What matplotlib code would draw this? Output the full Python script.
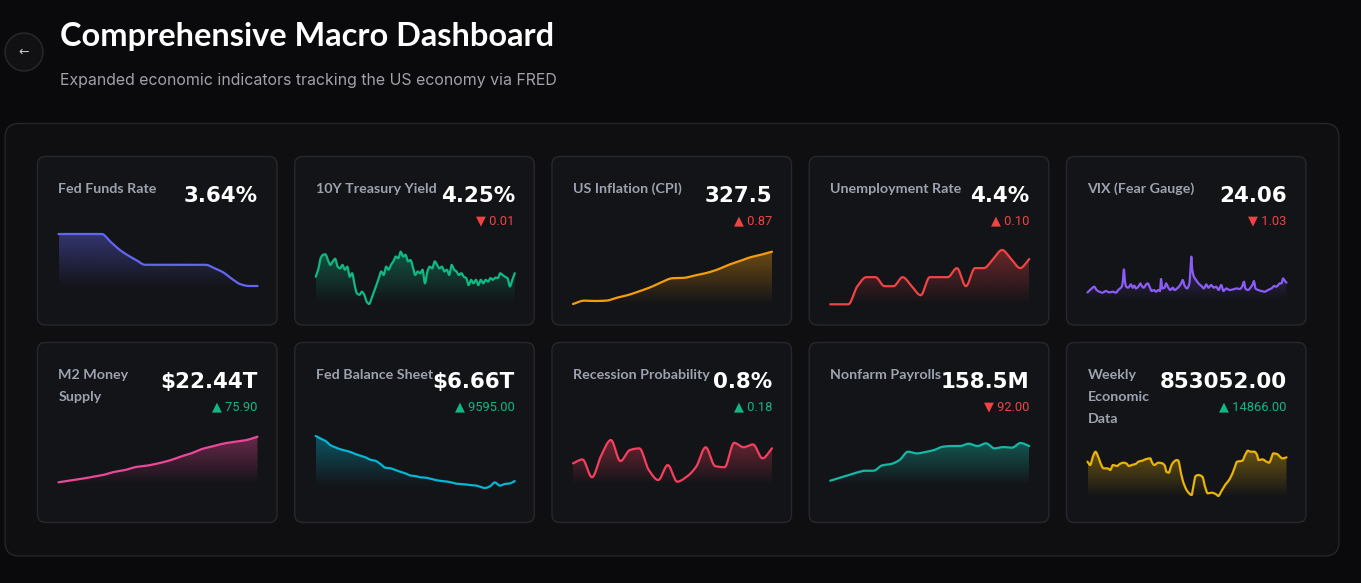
import numpy as np
import matplotlib
matplotlib.use("Agg")
import matplotlib.pyplot as plt
from matplotlib.patches import FancyBboxPatch, Circle, Polygon
from matplotlib.colors import to_rgb

# ---- data ----
labels = ["Fed Funds Rate", "10Y Treasury Yield", "US Inflation (CPI)", "Unemployment Rate", "VIX (Fear Gauge)",
          "M2 Money\nSupply", "Fed Balance Sheet", "Recession Probability", "Nonfarm Payrolls", "Weekly\nEconomic\nData"]
values = ["3.64%", "4.25%", "327.5", "4.4%", "24.06",
          "$22.44T", "$6.66T", "0.8%", "158.5M", "853052.00"]
changes = [None, "▼ 0.01", "▲ 0.87", "▲ 0.10", "▼ 1.03",
           "▲ 75.90", "▲ 9595.00", "▲ 0.18", "▼ 92.00", "▲ 14866.00"]
change_up_good = [None, False, False, False, False, True, True, True, False, True]

fed_funds = [5.33, 5.33, 5.33, 5.33, 5.33, 5.33, 5.08, 4.83, 4.64, 4.48, 4.33, 4.33,
             4.33, 4.33, 4.33, 4.33, 4.33, 4.33, 4.22, 4.09, 3.88, 3.70, 3.64, 3.64]

treasury_10y = [4.17, 4.33, 4.59, 4.67, 4.68, 4.55, 4.44, 4.52, 4.58, 4.40, 4.36, 4.44, 4.33, 4.40,
                4.17, 4.25, 3.98, 3.79, 3.76, 3.83, 3.76, 3.60, 3.55, 3.68, 3.83, 3.98, 4.14, 4.29,
                4.21, 4.40, 4.33, 4.44, 4.52, 4.63, 4.59, 4.74, 4.63, 4.67, 4.52, 4.55, 4.40, 4.21,
                4.29, 4.25, 4.33, 4.02, 4.29, 4.40, 4.36, 4.52, 4.44, 4.36, 4.40, 4.29, 4.33, 4.21,
                4.44, 4.33, 4.29, 4.21, 4.25, 4.17, 4.14, 3.98, 4.10, 4.02, 4.10, 3.98, 4.10, 4.02,
                4.10, 4.06, 4.14, 4.10, 4.15, 4.14, 4.25, 4.21, 4.17, 4.14, 3.95, 4.10, 4.25]

cpi = [296.3, 298.3, 298.1, 298.3, 300.1, 301.7, 303.9, 306.3, 309.3, 311.7,
       311.9, 313.3, 314.7, 316.7, 319.5, 321.7, 324.1, 325.7, 327.5]

unemployment = [3.9, 3.9, 3.9, 4.1, 4.2, 4.2, 4.1, 4.1, 4.2, 4.1, 4.0, 4.2,
                4.2, 4.2, 4.3, 4.1, 4.3, 4.3, 4.4, 4.5, 4.4, 4.3, 4.4]

vix_day = [0, 10, 19, 25, 34, 44, 56, 69, 81, 94,
           106, 115, 122, 128, 132, 136, 140, 145, 152, 162,
           169, 175, 181, 190, 198, 202, 210, 219, 225, 232,
           240, 248, 256, 265, 271, 275, 279, 288, 294, 300,
           310, 319, 325, 338, 350, 356, 362, 372, 381, 385,
           388, 391, 398, 406, 415, 425, 435, 444, 452, 462,
           472, 481, 490, 500, 508, 519, 531, 544, 556, 569,
           578, 585, 590, 600, 612, 619, 622, 628, 638, 650,
           662, 675, 688, 698, 706, 719, 725, 731, 738, 744]
vix = [14.3, 16.7, 19.0, 20.0, 16.7, 15.0, 14.0, 15.7, 14.3, 15.0,
       14.0, 16.7, 18.3, 20.0, 25.0, 37.3, 25.0, 20.0, 19.0, 22.3,
       19.0, 21.0, 18.3, 20.0, 23.3, 21.0, 19.0, 22.3, 23.3, 20.0,
       15.7, 16.7, 15.0, 16.7, 15.7, 27.7, 18.3, 19.0, 23.3, 20.0,
       16.7, 19.0, 16.7, 19.0, 23.3, 26.7, 21.7, 18.3, 23.3, 38.3,
       50.0, 38.3, 30.0, 26.7, 23.3, 21.0, 18.3, 22.3, 19.0, 21.7,
       19.0, 20.0, 16.7, 21.7, 15.7, 18.3, 16.7, 17.3, 18.3, 17.7,
       20.0, 25.0, 18.3, 16.7, 20.0, 23.3, 25.7, 18.3, 16.7, 15.7,
       15.0, 16.7, 18.3, 20.7, 20.0, 23.3, 23.3, 28.3, 25.7, 24.1]

m2 = [20.80, 20.86, 20.92, 20.99, 21.06, 21.17, 21.24, 21.35, 21.40, 21.48,
      21.58, 21.72, 21.84, 22.00, 22.10, 22.20, 22.26, 22.32, 22.44]

fed_balance = [8.35, 8.25, 8.16, 8.00, 7.92, 7.85, 7.80, 7.75, 7.67, 7.61,
               7.55, 7.46, 7.42, 7.30, 7.16, 7.14, 7.07, 7.01, 6.95, 6.87,
               6.85, 6.80, 6.79, 6.75, 6.70, 6.67, 6.65, 6.62, 6.57, 6.55,
               6.54, 6.51, 6.50, 6.45, 6.40, 6.46, 6.61, 6.49, 6.55, 6.57, 6.66]

recession_prob = [0.53, 0.60, 0.28, 0.68, 0.95, 0.57, 0.77, 0.80, 0.41, 0.23, 0.50,
                  0.20, 0.29, 0.47, 0.82, 0.48, 0.46, 0.90, 0.82, 0.87, 0.62, 0.80]

payrolls = [154.50, 154.80, 155.11, 155.42, 155.65, 155.65, 156.27, 156.42, 156.88, 157.85,
            157.65, 157.81, 158.04, 158.42, 158.50, 158.50, 158.77, 158.50, 158.81, 158.23,
            158.38, 158.31, 158.85, 158.50]

weekly_wk = [0, 2, 4, 6, 8, 10, 12, 15, 17, 19,
             22, 24, 27, 29, 31, 33, 36, 38, 41, 44,
             47, 48, 50, 53, 56, 58, 59, 61, 62, 64,
             67, 68, 70, 72, 75, 78, 79, 81, 83, 86,
             88, 90, 93, 96, 98, 100, 103, 106, 108, 110,
             112, 116, 118, 120, 122, 125, 127, 128, 131, 134,
             136, 138, 139, 142, 144, 146, 149]
weekly = [840, 830, 855, 870, 855, 833, 820, 820, 815, 830,
          827, 833, 837, 835, 827, 830, 833, 840, 843, 848,
          850, 840, 830, 837, 835, 827, 810, 807, 820, 837,
          845, 843, 805, 775, 750, 740, 760, 797, 800, 795,
          765, 745, 747, 743, 737, 750, 770, 785, 800, 820,
          840, 843, 860, 873, 870, 870, 860, 845, 847, 840,
          837, 855, 865, 863, 855, 850, 853.052]

# ---- styling ----
W, H = 1361, 583
BG = '#0a0a0c'
PANEL = '#0f0f12'
CARD = '#131418'
BORDER = '#27282d'
LABEL = '#9ca3af'
RED = '#ef4444'
GREEN = '#10b981'

line_colors = ['#6366f1', '#10b981', '#f59e0b', '#ef4444', '#8b5cf6',
               '#ec4899', '#06b6d4', '#f43f5e', '#14b8a6', '#eab308']

fig = plt.figure(figsize=(W / 100, H / 100), dpi=100, facecolor=BG)
base = fig.add_axes([0, 0, 1, 1])
base.set_xlim(0, W)
base.set_ylim(H, 0)
base.axis('off')


def rbox(x0, y0, x1, y1, r, fc, ec):
    p = FancyBboxPatch((x0, y0), x1 - x0, y1 - y0, boxstyle=f"round,pad=0,rounding_size={r}",
                       fc=fc, ec=ec, lw=1)
    base.add_patch(p)


def monotone(x, y, n=10):
    # monotone cubic curve through the points (like a "monotone" line renderer)
    x = np.asarray(x, float)
    y = np.asarray(y, float)
    h = np.diff(x)
    d = np.diff(y) / h
    m = np.zeros_like(y)
    m[0], m[-1] = d[0], d[-1]
    for i in range(1, len(y) - 1):
        if d[i - 1] * d[i] <= 0:
            m[i] = 0
        else:
            w1 = 2 * h[i] + h[i - 1]
            w2 = h[i] + 2 * h[i - 1]
            m[i] = (w1 + w2) / (w1 / d[i - 1] + w2 / d[i])
    xs, ys = [], []
    t = np.linspace(0, 1, n, endpoint=False)
    h00 = 2 * t ** 3 - 3 * t ** 2 + 1
    h10 = t ** 3 - 2 * t ** 2 + t
    h01 = -2 * t ** 3 + 3 * t ** 2
    h11 = t ** 3 - t ** 2
    for i in range(len(h)):
        xs.append(x[i] + t * h[i])
        ys.append(h00 * y[i] + h10 * h[i] * m[i] + h01 * y[i + 1] + h11 * h[i] * m[i + 1])
    xs.append([x[-1]])
    ys.append([y[-1]])
    return np.concatenate(xs), np.concatenate(ys)


# header
base.add_patch(Circle((24, 52), 19, fc='#111114', ec='#2a2a2e', lw=1))
base.text(24, 52, "←", color='#c8c8ce', fontsize=9, ha='center', va='center', family='DejaVu Sans')
base.text(60, 46, "Comprehensive Macro Dashboard", color='white', fontsize=23.4, fontweight='bold',
          family='Lato', ha='left', va='baseline')
base.text(60, 84.5, "Expanded economic indicators tracking the US economy via FRED", color='#a1a1aa',
          fontsize=11.45, family='Inter', ha='left', va='baseline')

rbox(5, 123.5, 1339, 556, 14, PANEL, '#25252a')

card_x = [37.5 + 257.25 * i for i in range(5)]
row_top = [156.5, 342.5]
row_bot = [325, 522.5]
ROW_DY = 186

# per chart pixel targets: (y of max, y of min, y of fill bottom)
spark_px = [(234, 286, 287), (251.7, 304, 303), (251.7, 304, 304), (250, 304.3, 304), (256.7, 292.7, 300),
            (436.7, 482.3, 485), (436, 488, 487), (440, 481.7, 485), (443, 480.7, 485), (450.7, 496, 497)]

series = [(None, fed_funds), (None, treasury_10y), (None, cpi), (None, unemployment), (vix_day, vix),
          (None, m2), (None, fed_balance), (None, recession_prob), (None, payrolls), (weekly_wk, weekly)]

for k in range(10):
    row, col = divmod(k, 5)
    x0 = card_x[col]
    rbox(x0, row_top[row], x0 + 239.5, row_bot[row], 8, CARD, BORDER)

    dy = ROW_DY * row
    for j, ln in enumerate(labels[k].split("\n")):
        base.text(x0 + 21, 193.3 + dy + 22 * j, ln, color=LABEL, fontsize=10.3, fontweight='bold',
                  family='Lato', ha='left', va='baseline')
    base.text(x0 + 220, 201.7 + dy, values[k], color='white', fontsize=15.4, fontweight='bold',
              family='DejaVu Sans', ha='right', va='baseline')
    if changes[k]:
        col_c = GREEN if change_up_good[k] else RED
        base.text(x0 + 220, 224 + dy, changes[k], color=col_c, fontsize=9.3,
                  family=['Roboto', 'DejaVu Sans'], ha='right', va='baseline')

    # sparkline
    xv, yv = series[k]
    if xv is None:
        xv = list(range(len(yv)))
    px_hi, px_lo, px_bot = spark_px[k]
    sx0, sx1 = x0 + 21, x0 + 220
    top = px_hi - 8
    ax = fig.add_axes([sx0 / W, 1 - px_bot / H, (sx1 - sx0) / W, (px_bot - top) / H])
    ax.axis('off')
    vhi, vlo = max(yv), min(yv)
    s = (vhi - vlo) / (px_lo - px_hi)
    ybot = vlo - (px_bot - px_lo) * s
    ytop = vhi + (px_hi - top) * s
    xs, ys = monotone(xv, yv)
    color = line_colors[k]
    rgb = to_rgb(color)
    grad = np.zeros((200, 1, 4))
    grad[..., 0], grad[..., 1], grad[..., 2] = rgb
    grad[..., 3] = np.linspace(0.4, 0.0, 200)[:, None]
    im = ax.imshow(grad, extent=[xv[0], xv[-1], ybot, vhi], origin='upper', aspect='auto',
                   interpolation='bilinear', zorder=1)
    verts = list(zip(xs, ys)) + [(xs[-1], ybot), (xs[0], ybot)]
    clip = Polygon(verts, closed=True, fc='none', ec='none', transform=ax.transData)
    ax.add_patch(clip)
    im.set_clip_path(clip)
    ax.plot(xs, ys, color=color, lw=1.6, clip_on=False, solid_capstyle='round', zorder=2)
    ax.set_xlim(xv[0], xv[-1])
    ax.set_ylim(ybot, ytop)

fig.savefig("out.png", dpi=100, facecolor=BG)
